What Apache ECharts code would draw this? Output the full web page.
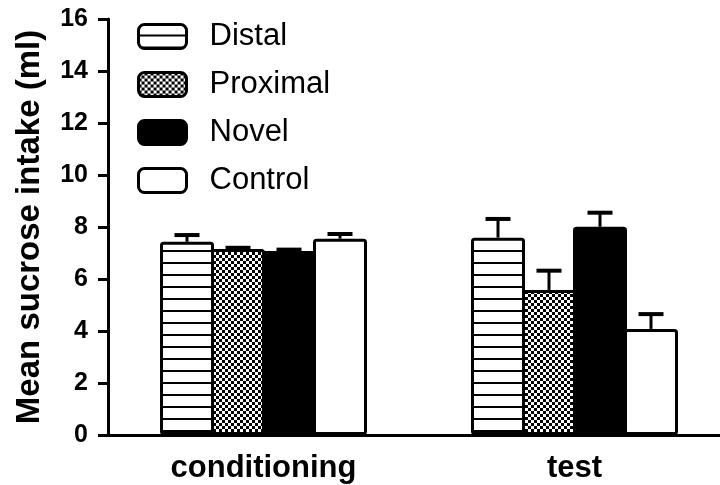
<!DOCTYPE html>
<html>
<head>
<meta charset="utf-8">
<script src="https://cdn.jsdelivr.net/npm/echarts@6/dist/echarts.min.js"></script>
<style>html,body{margin:0;padding:0;background:#fff}#c{width:720px;height:485px}</style>
</head>
<body>
<div id="c"></div>
<script>
var categories = ['conditioning', 'test'];
var seriesNames = ['Distal', 'Proximal', 'Novel', 'Control'];
var distal = [7.43, 7.59];
var proximal = [7.15, 5.58];
var novel = [7.08, 8.01];
var control = [7.55, 4.08];
var distalErr = [0.26, 0.72];
var proximalErr = [0.05, 0.74];
var novelErr = [0.05, 0.54];
var controlErr = [0.18, 0.57];
var yTicks = [0, 2, 4, 6, 8, 10, 12, 14, 16];

function makeLines() {
  var c = document.createElement('canvas');
  c.width = 8; c.height = 12;
  var g = c.getContext('2d');
  g.fillStyle = '#fff'; g.fillRect(0, 0, 8, 12);
  g.fillStyle = '#000'; g.fillRect(0, 10, 8, 2);
  return c;
}
function makeChecker() {
  var c = document.createElement('canvas');
  c.width = 6; c.height = 6;
  var g = c.getContext('2d');
  g.fillStyle = '#fff'; g.fillRect(0, 0, 6, 6);
  g.fillStyle = '#000'; g.fillRect(0, 0, 3, 3); g.fillRect(3, 3, 3, 3);
  return c;
}

var fills = [
  {image: makeLines(), repeat: 'repeat'},
  {image: makeChecker(), repeat: 'repeat'},
  '#000',
  '#fff'
];
var values = [distal, proximal, novel, control];
var errs = [distalErr, proximalErr, novelErr, controlErr];
var STEP = 51;
var BW = 54;

var series = seriesNames.map(function (n, i) {
  return {
    name: n, type: 'bar', data: values[i], barWidth: BW, barGap: ((STEP - BW) / BW * 100) + '%',
    itemStyle: {color: fills[i], borderColor: '#000', borderWidth: 3, borderRadius: 2},
    z: 2
  };
});

var errData = [];
for (var s = 0; s < 4; s++) {
  for (var k = 0; k < categories.length; k++) {
    errData.push([k, values[s][k], errs[s][k], s]);
  }
}
series.push({
  type: 'custom', name: 'err', data: errData, z: 5,
  renderItem: function (params, api) {
    var k = api.value(0), m = api.value(1), e = api.value(2), s = api.value(3);
    var off = (s - 1.5) * STEP;
    var p0 = api.coord([k, m]);
    var p1 = api.coord([k, m + e]);
    var x = p0[0] + off;
    return {
      type: 'group',
      children: [
        {type: 'line', shape: {x1: x, y1: p0[1], x2: x, y2: p1[1]}, style: {stroke: '#000', lineWidth: 3}},
        {type: 'line', shape: {x1: x - 12.5, y1: p1[1], x2: x + 12.5, y2: p1[1]}, style: {stroke: '#000', lineWidth: 4}}
      ]
    };
  }
});

var chart = echarts.init(document.getElementById('c'));
chart.setOption({
  animation: false,
  backgroundColor: '#fff',
  grid: {left: 108, top: 19, width: 622, height: 416, containLabel: false, outerBoundsMode: 'none'},
  legend: {
    data: seriesNames, orient: 'vertical', left: 132, top: 16,
    itemWidth: 48, itemHeight: 24, itemGap: 17, icon: 'roundRect',
    textStyle: {fontFamily: 'Liberation Sans', fontSize: 31, color: '#000', padding: [0, 0, 0, 18]},
    itemStyle: {borderColor: '#000', borderWidth: 3}
  },
  xAxis: {
    type: 'category', data: categories,
    axisLine: {lineStyle: {color: '#000', width: 3}},
    axisTick: {alignWithLabel: true, length: 10, lineStyle: {color: '#000', width: 3}},
    axisLabel: {fontFamily: 'Liberation Sans', fontWeight: 'bold', fontSize: 31, color: '#000', margin: 18}
  },
  yAxis: {
    type: 'value', min: 0, max: 16, interval: 2,
    name: 'Mean sucrose intake (ml)', nameLocation: 'middle', nameGap: 62,
    nameTextStyle: {fontFamily: 'Liberation Sans', fontWeight: 'bold', fontSize: 33, color: '#000'},
    splitLine: {show: false},
    axisLine: {show: true, lineStyle: {color: '#000', width: 3}},
    axisTick: {show: true, length: 10, lineStyle: {color: '#000', width: 3}},
    axisLabel: {fontFamily: 'Liberation Sans', fontWeight: 'bold', fontSize: 25, color: '#000', margin: 20,
      formatter: function (v) { return yTicks.indexOf(v) >= 0 ? String(v) : ''; }}
  },
  series: series
});
</script>
</body>
</html>
